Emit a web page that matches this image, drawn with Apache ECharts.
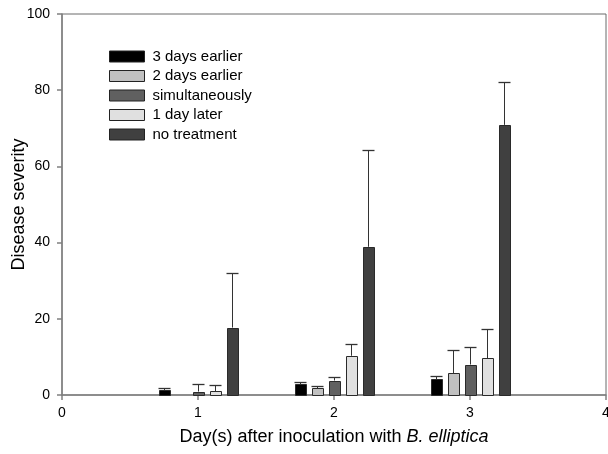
<!DOCTYPE html>
<html>
<head>
<meta charset="utf-8">
<script src="https://cdn.jsdelivr.net/npm/echarts@6/dist/echarts.min.js"></script>
<style>html,body{margin:0;padding:0;background:#fff}#c{width:608px;height:454px}</style>
</head>
<body>
<div id="c"></div>
<script>
const days = [1, 2, 3];
const seriesNames = ['3 days earlier', '2 days earlier', 'simultaneously', '1 day later', 'no treatment'];
const threeDaysEarlier = [1.3, 2.8, 4.1];
const threeDaysEarlierErr = [0.6, 0.5, 1.0];
const twoDaysEarlier = [null, 1.8, 5.7];
const twoDaysEarlierErr = [null, 0.5, 6.1];
const simultaneously = [0.9, 3.8, 8.0];
const simultaneouslyErr = [1.9, 1.0, 4.5];
const oneDayLater = [1.0, 10.3, 9.7];
const oneDayLaterErr = [1.6, 3.2, 7.7];
const noTreatment = [17.7, 38.9, 70.9];
const noTreatmentErr = [14.3, 25.3, 11.3];
const xTicks = [0, 1, 2, 3, 4];
const yTicks = [0, 20, 40, 60, 80, 100];

const values = [threeDaysEarlier, twoDaysEarlier, simultaneously, oneDayLater, noTreatment];
const errors = [threeDaysEarlierErr, twoDaysEarlierErr, simultaneouslyErr, oneDayLaterErr, noTreatmentErr];
const colors = ['#000000', '#c0c0c0', '#606060', '#e0e0e0', '#404040'];
const offsets = [-0.25, -0.125, 0, 0.125, 0.25];
const FONT = '"Liberation Sans", Arial, sans-serif';

function makeSeries(k) {
  const data = [];
  days.forEach((d, i) => {
    if (values[k][i] != null) data.push([d, values[k][i], errors[k][i]]);
  });
  return {
    type: 'custom',
    name: seriesNames[k],
    itemStyle: { color: colors[k], borderColor: '#222', borderWidth: 1 },
    data: data,
    renderItem: function (params, api) {
      const x = api.value(0) + offsets[k];
      const y = api.value(1);
      const e = api.value(2);
      const base = api.coord([x, 0]);
      const top = api.coord([x, y]);
      const et = api.coord([x, y + e]);
      const w = api.size([0.08, 0])[0];
      const cx = Math.round(base[0]) + 0.5;
      return {
        type: 'group',
        children: [
          { type: 'rect', shape: { x: Math.round(base[0] - w / 2) + 0.5, y: Math.round(top[1]) + 0.5, width: Math.round(w), height: Math.round(base[1]) - Math.round(top[1]) },
            style: { fill: colors[k], stroke: '#2a2a2a', lineWidth: 1 } },
          { type: 'line', shape: { x1: cx, y1: top[1], x2: cx, y2: Math.round(et[1]) + 0.5 }, style: { stroke: '#333', lineWidth: 1 } },
          { type: 'line', shape: { x1: cx - 6, y1: Math.round(et[1]) + 0.5, x2: cx + 6, y2: Math.round(et[1]) + 0.5 }, style: { stroke: '#333', lineWidth: 1.3 } }
        ]
      };
    }
  };
}

const chart = echarts.init(document.getElementById('c'), null, { renderer: 'canvas' });
chart.setOption({
  animation: false,
  backgroundColor: '#fff',
  grid: { left: 62, right: 2, top: 14, bottom: 59, containLabel: false, outerBoundsMode: 'none', show: true, borderColor: '#6a6a6a', borderWidth: 1 },
  legend: {
    orient: 'vertical', left: 109, top: 49, padding: 0,
    itemWidth: 35, itemHeight: 11, itemGap: 4.5,
    icon: 'rect',
    textStyle: { fontSize: 15, lineHeight: 15, fontFamily: FONT, color: '#000', padding: [0, 0, 0, 3] },
    data: seriesNames.map((n, k) => ({ name: n, itemStyle: { color: colors[k], borderColor: '#222', borderWidth: 1 } }))
  },
  xAxis: {
    type: 'value', min: xTicks[0], max: xTicks[xTicks.length - 1], interval: 1,
    name: 'Day(s) after inoculation with {i|B. elliptica}',
    nameLocation: 'middle', nameGap: 33, nameMoveOverlap: false,
    nameTextStyle: { fontSize: 18, fontFamily: FONT, color: '#000', rich: { i: { fontStyle: 'italic', fontSize: 18, fontFamily: FONT, color: '#000' } } },
    axisLine: { show: true, lineStyle: { color: '#808080', width: 1.5 } },
    axisTick: { show: true, length: 5, lineStyle: { color: '#808080', width: 1.5 } },
    axisLabel: { fontSize: 14, fontFamily: FONT, color: '#000', margin: 11, showMaxLabel: true },
    splitLine: { show: false }
  },
  yAxis: {
    type: 'value', min: yTicks[0], max: yTicks[yTicks.length - 1], interval: 20,
    name: 'Disease severity', nameLocation: 'middle', nameGap: 34, nameMoveOverlap: false,
    nameTextStyle: { fontSize: 18, fontFamily: FONT, color: '#000' },
    axisLine: { show: true, lineStyle: { color: '#808080', width: 1.5 } },
    axisTick: { show: true, length: 5, lineStyle: { color: '#808080', width: 1.5 } },
    axisLabel: { fontSize: 14, fontFamily: FONT, color: '#000', margin: 12 },
    splitLine: { show: false }
  },
  series: [0, 1, 2, 3, 4].map(makeSeries)
});
</script>
</body>
</html>
